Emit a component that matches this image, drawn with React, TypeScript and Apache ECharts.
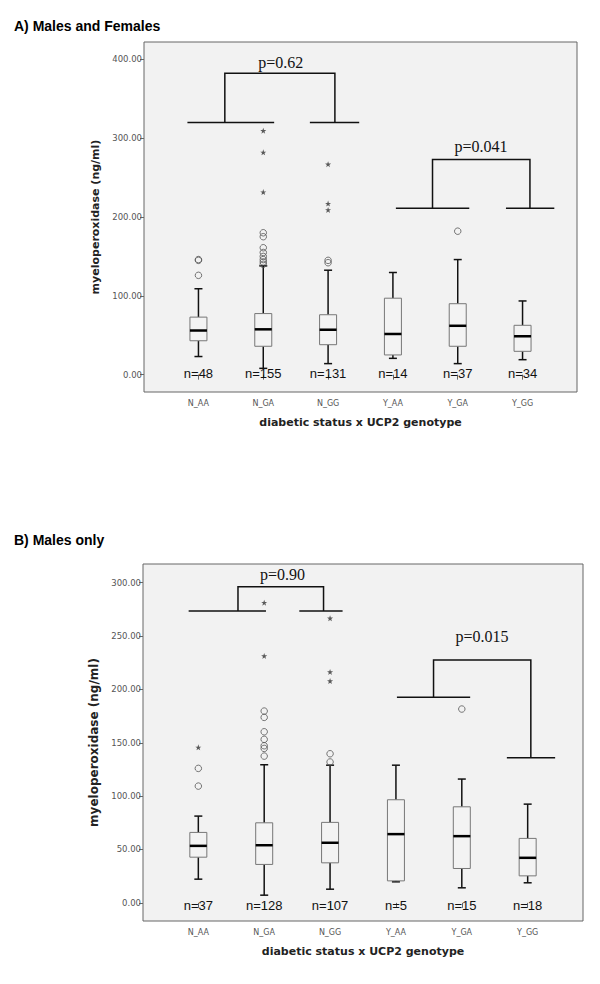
import React, { useEffect, useRef } from "react";
import * as echarts from "echarts";

const CATEGORIES = ["N_AA", "N_GA", "N_GG", "Y_AA", "Y_GA", "Y_GG"];
const CAT_POS = [1, 2, 3, 4, 5, 6];

const Y_TICKS_A = [0, 100, 200, 300, 400];
const Y_TICKS_B = [0, 50, 100, 150, 200, 250, 300];

// [low whisker, Q1, median, Q3, high whisker]
const BOX_A = [
  [23, 43, 56, 73, 109],
  [8, 36, 57.5, 77.5, 138],
  [14, 38, 57, 76, 132.5],
  [20.7, 25, 51.6, 97, 129.6],
  [14, 36, 62, 90, 146],
  [19, 29.6, 48.7, 62.6, 93.5],
];
const N_A = [48, 155, 131, 14, 37, 34];
const CIRCLES_A = [
  [1, 146], [1, 145], [1, 126],
  [2, 180], [2, 175], [2, 161], [2, 155], [2, 150], [2, 146], [2, 143], [2, 140],
  [3, 145], [3, 142],
  [5, 182],
];
const STARS_A = [[2, 309.5], [2, 282], [2, 231.6], [3, 267], [3, 217], [3, 209]];

const BOX_B = [
  [22.2, 42.8, 53.4, 66, 81.3],
  [7.2, 36, 54, 75, 129.4],
  [12.8, 37.5, 56.3, 75.4, 129],
  [19.7, 20.6, 64.4, 96.6, 129],
  [14.1, 32.2, 62.5, 90, 116],
  [18.8, 25.3, 42.2, 60.4, 92.5],
];
const N_B = [37, 128, 107, 5, 15, 18];
const CIRCLES_B = [
  [1, 126], [1, 109.4],
  [2, 179.7], [2, 173.8], [2, 160.3], [2, 153.2], [2, 147.2], [2, 144.7], [2, 137.5],
  [3, 139.7], [3, 132],
  [5, 181.6],
];
const STARS_B = [[1, 145.7], [2, 281.3], [2, 231.3], [3, 266.6], [3, 216.3], [3, 207.8]];

// bracket: [leftLow x1, x2, left vertical x, left low y, rightLow x1, x2, right vertical x, right low y, top y, text x, text y]
const BRACKETS_A = [
  [0.83, 2.168, 1.407, 320, 2.719, 3.48, 3.105, 320, 382.5, 2.27, 396.5],
  [4.046, 5.178, 4.611, 211, 5.744, 6.49, 6.114, 211, 273, 5.36, 289],
];
const BRACKET_LABELS_A = ["p=0.62", "p=0.041"];
const BRACKETS_B = [
  [0.853, 2.027, 1.602, 273.5, 2.533, 3.19, 2.901, 273.5, 296.2, 2.279, 307.2],
  [4.015, 5.127, 4.571, 192.6, 5.684, 6.417, 6.048, 136, 227.5, 5.305, 250],
];
const BRACKET_LABELS_B = ["p=0.90", "p=0.015"];

const STAR_PATH =
  "path://M0,-10L2.4,-3.1L9.5,-3.1L3.8,1.2L5.9,8.1L0,3.8L-5.9,8.1L-3.8,1.2L-9.5,-3.1L-2.4,-3.1Z";

function boxRender(params: any, api: any) {
  const x = api.value(0);
  const c = (i: number) => api.coord([x, api.value(i)]);
  const lo = c(1), q1 = c(2), md = c(3), q3 = c(4), hi = c(5);
  const cx = lo[0];
  const half = 8.5;
  const cap = 4;
  const ls = { stroke: "#111", lineWidth: 1.5 };
  return {
    type: "group",
    children: [
      { type: "line", shape: { x1: cx, y1: q3[1], x2: cx, y2: hi[1] }, style: ls },
      { type: "line", shape: { x1: cx, y1: q1[1], x2: cx, y2: lo[1] }, style: ls },
      { type: "line", shape: { x1: cx - cap, y1: hi[1], x2: cx + cap, y2: hi[1] }, style: ls },
      { type: "line", shape: { x1: cx - cap, y1: lo[1], x2: cx + cap, y2: lo[1] }, style: ls },
      {
        type: "rect",
        shape: { x: cx - half, y: q3[1], width: 2 * half, height: q1[1] - q3[1] },
        style: { fill: "#f3f3f3", stroke: "#777", lineWidth: 1 },
      },
      { type: "line", shape: { x1: cx - half, y1: md[1], x2: cx + half, y2: md[1] }, style: { stroke: "#000", lineWidth: 2.5 } },
    ],
  };
}

function makeBracketRender(labels: string[]) {
  return (params: any, api: any) => {
    const v = (i: number) => api.value(i);
    const P = (x: number, y: number) => api.coord([x, y]);
    const ll1 = P(v(0), v(3)), ll2 = P(v(1), v(3)), lv = P(v(2), v(3));
    const rl1 = P(v(4), v(7)), rl2 = P(v(5), v(7)), rv = P(v(6), v(7));
    const topL = P(v(2), v(8)), topR = P(v(6), v(8));
    const t = P(v(9), v(10));
    const ls = { stroke: "#111", lineWidth: 1.5 };
    return {
      type: "group",
      children: [
        { type: "line", shape: { x1: ll1[0], y1: ll1[1], x2: ll2[0], y2: ll2[1] }, style: ls },
        { type: "line", shape: { x1: rl1[0], y1: rl1[1], x2: rl2[0], y2: rl2[1] }, style: ls },
        { type: "polyline", shape: { points: [[lv[0], lv[1]], [topL[0], topL[1]], [topR[0], topR[1]], [rv[0], rv[1]]] }, style: { ...ls, fill: "none" } },
        {
          type: "text",
          x: t[0],
          y: t[1],
          style: {
            text: labels[params.dataIndex],
            fontFamily: "Liberation Serif",
            fontSize: 16,
            fill: "#111",
            align: "center",
            verticalAlign: "middle",
          },
        },
      ],
    };
  };
}

function makeNRender(dy: number) {
  return (params: any, api: any) => {
    const p = api.coord([api.value(0), 0]);
    return {
      type: "text",
      x: p[0],
      y: p[1] + dy,
      style: {
        text: "n=" + api.value(1),
        fontFamily: "Liberation Sans",
        fontSize: 13,
        fill: "#111",
        align: "center",
        verticalAlign: "middle",
      },
    };
  };
}

export default function App() {
  const ref = useRef<HTMLDivElement>(null);
  useEffect(() => {
    if (!ref.current) return;
    const chart = echarts.init(ref.current, null, { renderer: "svg" });

    const xAxisBase = (gridIndex: number) => ({
      type: "value",
      gridIndex,
      min: 0.16,
      max: 6.84,
      name: "diabetic status x UCP2 genotype",
      nameLocation: "middle",
      nameGap: 25,
      nameTextStyle: { fontFamily: "DejaVu Sans", fontWeight: "bold", fontSize: 11, color: "#222" },
      axisLine: { show: false },
      splitLine: { show: false },
      axisTick: { show: true, customValues: CAT_POS, length: 5, lineStyle: { color: "#666" } },
      axisLabel: {
        customValues: CAT_POS,
        formatter: (v: number) => CATEGORIES[Math.round(v) - 1] ?? "",
        fontFamily: "DejaVu Sans",
        fontSize: 8,
        color: "#555",
        margin: 7,
      },
    });

    const yAxisBase = (gridIndex: number, min: number, max: number, ticks: number[], nameGap: number, nameSize: number) => ({
      type: "value",
      gridIndex,
      min,
      max,
      name: "myeloperoxidase (ng/ml)",
      nameLocation: "middle",
      nameGap,
      nameTextStyle: { fontFamily: "DejaVu Sans", fontWeight: "bold", fontSize: nameSize, color: "#222" },
      axisLine: { show: false },
      splitLine: { show: false },
      axisTick: { show: true, customValues: ticks, length: 4, lineStyle: { color: "#666" } },
      axisLabel: {
        customValues: ticks,
        formatter: (v: number) => v.toFixed(2),
        fontFamily: "DejaVu Sans",
        fontSize: 8.5,
        color: "#555",
        margin: 2,
      },
    });

    const boxData = (box: number[][]) => box.map((b, i) => [CAT_POS[i], ...b]);
    const nData = (n: number[]) => n.map((v, i) => [CAT_POS[i], v]);

    const option: any = {
      animation: false,
      backgroundColor: "#fff",
      graphic: [
        {
          type: "text",
          left: 14,
          top: 19,
          style: { text: "A) Males and Females", fontFamily: "Liberation Sans", fontWeight: "bold", fontSize: 14, fill: "#000" },
        },
        {
          type: "text",
          left: 14,
          top: 533,
          style: { text: "B) Males only", fontFamily: "Liberation Sans", fontWeight: "bold", fontSize: 14, fill: "#000" },
        },
      ],
      grid: [
        { left: 144, top: 42, width: 433, height: 350, show: true, backgroundColor: "#f2f2f2", borderColor: "#666", borderWidth: 1 },
        { left: 143, top: 564, width: 440, height: 357, show: true, backgroundColor: "#f2f2f2", borderColor: "#666", borderWidth: 1 },
      ],
      xAxis: [xAxisBase(0), xAxisBase(1)],
      yAxis: [
        yAxisBase(0, -22, 422, Y_TICKS_A, 40, 11),
        yAxisBase(1, -17, 317.5, Y_TICKS_B, 42, 12),
      ],
      series: [
        { type: "custom", xAxisIndex: 0, yAxisIndex: 0, renderItem: boxRender, data: boxData(BOX_A), encode: { x: 0, y: [1, 2, 3, 4, 5] } },
        { type: "custom", xAxisIndex: 1, yAxisIndex: 1, renderItem: boxRender, data: boxData(BOX_B), encode: { x: 0, y: [1, 2, 3, 4, 5] } },
        {
          type: "scatter", xAxisIndex: 0, yAxisIndex: 0, data: CIRCLES_A, symbol: "circle", symbolSize: 6.5,
          itemStyle: { color: "rgba(0,0,0,0)", borderColor: "#555", borderWidth: 1 },
        },
        {
          type: "scatter", xAxisIndex: 1, yAxisIndex: 1, data: CIRCLES_B, symbol: "circle", symbolSize: 6.5,
          itemStyle: { color: "rgba(0,0,0,0)", borderColor: "#555", borderWidth: 1 },
        },
        { type: "scatter", xAxisIndex: 0, yAxisIndex: 0, data: STARS_A, symbol: STAR_PATH, symbolSize: 6, itemStyle: { color: "#333" } },
        { type: "scatter", xAxisIndex: 1, yAxisIndex: 1, data: STARS_B, symbol: STAR_PATH, symbolSize: 6, itemStyle: { color: "#333" } },
        { type: "custom", xAxisIndex: 0, yAxisIndex: 0, renderItem: makeBracketRender(BRACKET_LABELS_A), data: BRACKETS_A, encode: { x: 0, y: 3 } },
        { type: "custom", xAxisIndex: 1, yAxisIndex: 1, renderItem: makeBracketRender(BRACKET_LABELS_B), data: BRACKETS_B, encode: { x: 0, y: 3 } },
        { type: "custom", xAxisIndex: 0, yAxisIndex: 0, renderItem: makeNRender(-1.5), data: nData(N_A), encode: { x: 0 } },
        { type: "custom", xAxisIndex: 1, yAxisIndex: 1, renderItem: makeNRender(3), data: nData(N_B), encode: { x: 0 } },
      ],
    };
    chart.setOption(option);
    return () => chart.dispose();
  }, []);
  return <div ref={ref} style={{ position: "fixed", left: 0, top: 0, width: 600, height: 984 }} />;
}
